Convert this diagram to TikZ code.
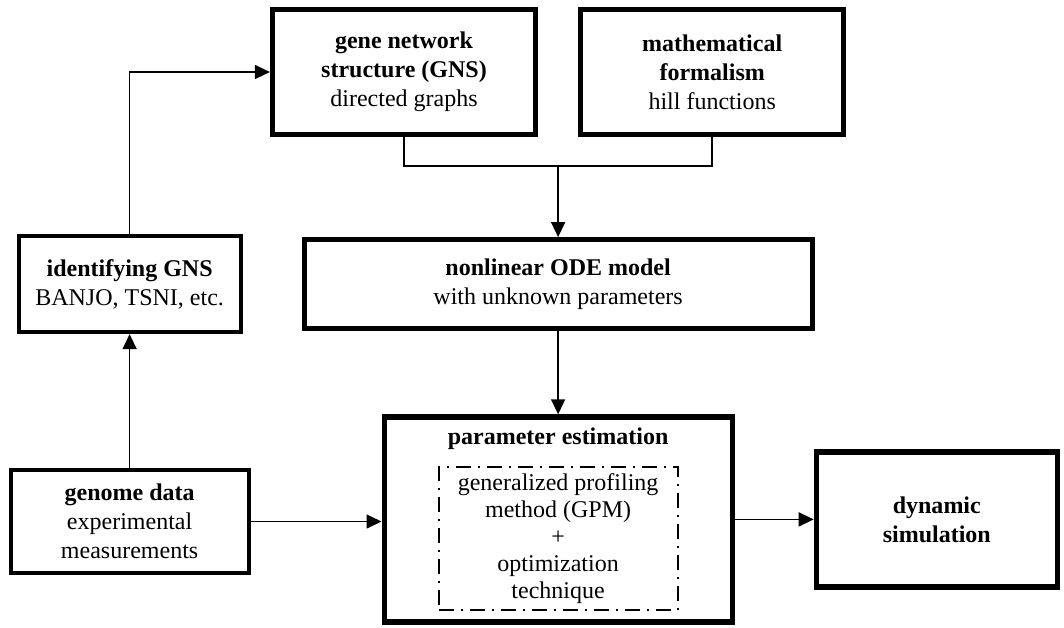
\documentclass[tikz,border=0pt]{standalone}
\usepackage{fontspec}
\setmainfont{Liberation Serif}
\usepackage{tikz}
\usetikzlibrary{arrows.meta}
\usetikzlibrary{positioning}
\usetikzlibrary{calc}

\begin{document}
\begin{tikzpicture}[x=0.5pt, y=-0.5pt, >={Triangle[length=7.5pt, width=7pt]}, font=\fontsize{12}{14.5}\selectfont]
	\tikzstyle{heavy box} = [draw, line width=2.6pt, align=center, inner sep=2pt];
	\tikzstyle{light box} = [draw, line width=1.9pt, align=center, inner sep=2pt];
	\tikzstyle{dashdot box} = [draw, line width=1pt, dash pattern=on 7.5pt off 3.5pt on 1pt off 3.5pt, align=center, inner sep=2pt];
	\tikzstyle{link} = [line width=0.75pt];

	\useasboundingbox (0,0) rectangle (1064,627);

	\node [heavy box, minimum width=131.5pt, minimum height=62.5pt] (gns) at (404,72) {\textbf{gene network}\\ \textbf{structure (GNS)}\\ directed graphs};
	\node [heavy box, minimum width=131.5pt, minimum height=62.5pt] (math) [right=20pt of gns] {\textbf{mathematical}\\ \textbf{formalism}\\ hill functions};
	\coordinate (join) at ($(gns.south)!0.5!(math.south) + (0,29)$);
	\node [heavy box, minimum width=254pt, minimum height=44.5pt] (ode) [below=35.5pt of join] {\textbf{nonlinear ODE model}\\ with unknown parameters};
	\node [heavy box, minimum width=174pt, minimum height=102.5pt] (param) [below=41.5pt of ode] {};
	\node [inner sep=0pt] (param_title) [below=6.5pt of param.north] {\textbf{parameter estimation}};
	\node [dashdot box, minimum width=119.5pt, minimum height=71.5pt, font=\fontsize{12}{13.5}\selectfont] (gpm) [below=8pt of param_title] {generalized profiling\\ method (GPM)\\ +\\ optimization\\ technique};
	\node [light box, minimum width=111pt, minimum height=48pt] (ident) [left=29.5pt of ode] {\textbf{identifying GNS}\\ BANJO, TSNI, etc.};
	\node [light box, minimum width=119pt, minimum height=51.5pt] (genome) [below=67pt of ident] {\textbf{genome data}\\ experimental\\ measurements};
	\node [heavy box, minimum width=120.5pt, minimum height=67.5pt] (dyn) [right=39.5pt of param] {\textbf{dynamic}\\ \textbf{simulation}};

	\draw [link] (gns.south) |- (join) -| (math.south);
	\draw [link, ->] (ident.north) |- (gns.west);
	\draw [link, ->] (genome.east) -- (genome.east -| param.west);
	\path [link, ->] (join) edge (ode)
		(ode) edge (param)
		(param) edge (dyn)
		(genome) edge (ident);
\end{tikzpicture}
\end{document}
